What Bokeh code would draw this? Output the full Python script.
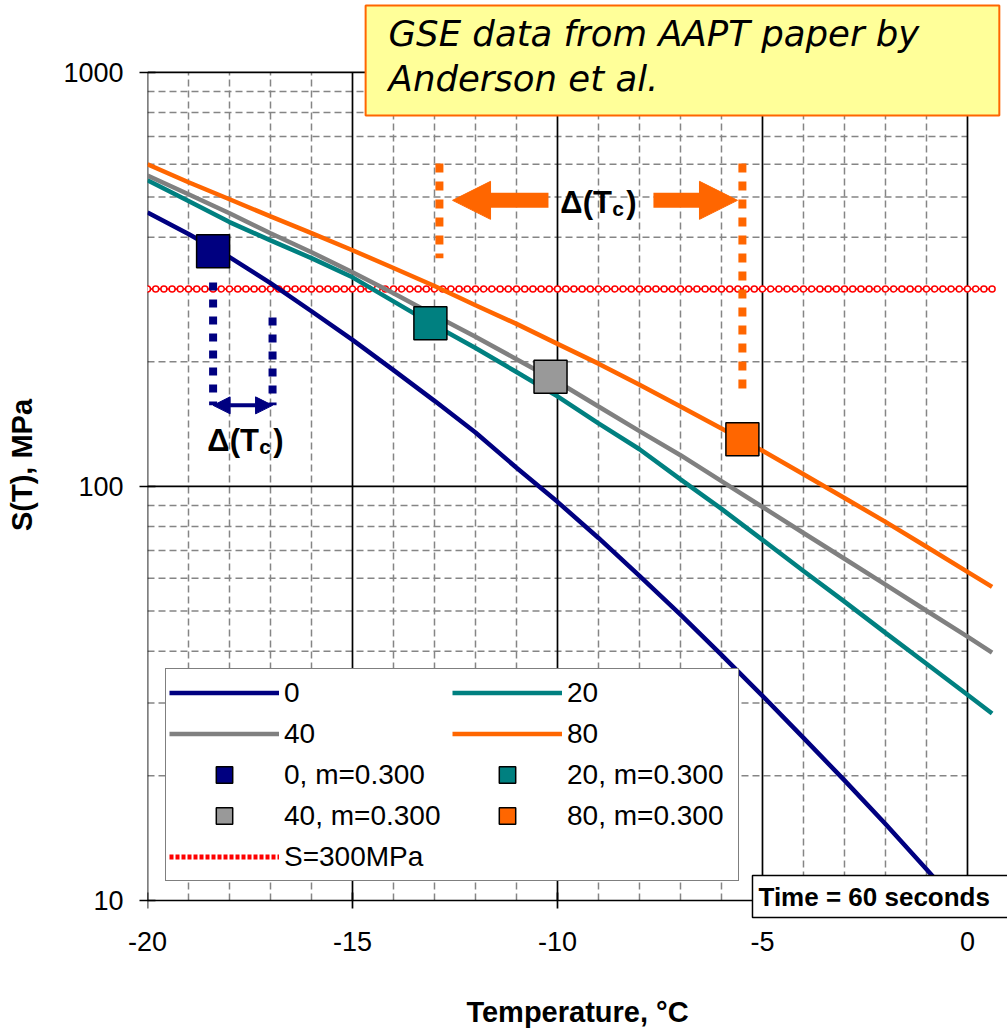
import numpy as np
from bokeh.plotting import figure
from bokeh.models import (Range1d, FixedTicker, Legend, LegendItem, Label, Arrow,
                          NormalHead, BasicTickFormatter)
from bokeh.embed import file_html
from bokeh.resources import INLINE

# ---- data -------------------------------------------------------------
temps = [-20, -19, -18, -17, -16, -15, -14, -13, -12, -11, -10,
         -9, -8, -7, -6, -5, -4, -3, -2, -1, 0, 0.6]

# stiffness S(T) [MPa] for the four conditioning times
s_0 = [459, 407, 358, 310, 265, 226, 191, 161, 135, 111, 91.8,
       75.1, 60.8, 49.0, 39.2, 31.2, 24.7, 19.5, 15.3, 11.9, 9.2]
s_20 = [549, 489, 435, 393, 356, 320, 280, 245, 216, 189, 165,
        142, 123, 104, 88.3, 74.3, 62.5, 52.7, 44.3, 37.3, 31.4, 28.3]
s_40 = [564, 508, 457, 409, 368, 329, 293, 259, 230, 203, 179,
        156, 136, 119, 103, 89.2, 77.2, 66.9, 57.9, 50.1, 43.4, 39.7]
s_80 = [600, 543, 494, 449, 409, 372, 337, 305, 274, 247, 221,
        198, 176, 156, 138, 122, 107, 93.8, 82.1, 71.5, 62.2, 57.2]

series_labels = ["0", "20", "40", "80"]
series_values = [s_0, s_20, s_40, s_80]
line_colors = ["#000080", "#008080", "#808080", "#FF6600"]
marker_colors = ["#000080", "#008080", "#999999", "#FF6600"]

# temperature where slope m = 0.300 on each curve
m_temps = [-18.4, -13.1, -10.17, -5.49]
m_stress = [370, 248, 184, 130]

S_LIMIT = 300          # MPa criterion
x_ticks = [-20, -15, -10, -5, 0]
y_ticks = [10, 100, 1000]

# delta(Tc) construction points
navy_cross_T = -16.95
orange_cross_T = -12.88
navy_bracket = dict(top_left=311, top_right=256, base=157)
orange_bracket = dict(top=603, bottom_left=356, bottom_right=168)
orange_arrow_S = 491
orange_label_T = -8.95

FONT = "Liberation Sans"
PX_PER_DECADE = 414.5   # vertical scale of the log axis

# frame spans the whole canvas height down to the tick labels so that the
# boxed notes may sit over the axis line
p = figure(width=1007, height=1030, x_range=Range1d(-20, 0.976),
           y_range=Range1d(8.51, 1492), y_axis_type="log",
           output_backend="svg", toolbar_location=None,
           min_border_left=147, min_border_right=0,
           min_border_top=0, min_border_bottom=100)
p.xgrid.visible = False
p.ygrid.visible = False
p.outline_line_color = None
p.background_fill_color = "white"
p.border_fill_color = "white"

# ---- grid -------------------------------------------------------------
x_lo, x_hi = x_ticks[0], x_ticks[-1]
y_lo, y_hi = y_ticks[0], y_ticks[-1]
x_minor = [t for t in range(x_lo + 1, x_hi) if t % 5 != 0]
y_minor = [k * 10 ** d for d in (1, 2) for k in range(2, 10)]
dash_kw = dict(line_color="#858585", line_width=1.5, line_dash="7 4")
p.segment(x0=x_minor, y0=[y_lo] * len(x_minor), x1=x_minor, y1=[y_hi] * len(x_minor), **dash_kw)
p.segment(x0=[x_lo] * len(y_minor), y0=y_minor, x1=[x_hi] * len(y_minor), y1=y_minor, **dash_kw)
p.segment(x0=x_ticks, y0=[y_lo] * len(x_ticks), x1=x_ticks, y1=[y_hi] * len(x_ticks),
          line_color="black", line_width=1.7)
p.segment(x0=[x_lo] * len(y_ticks), y0=y_ticks, x1=[x_hi] * len(y_ticks), y1=y_ticks,
          line_color="black", line_width=1.7)
# x tick marks crossing the bottom axis line (8 px each side)
tick_f = 10 ** (8 / PX_PER_DECADE)
p.segment(x0=x_ticks, y0=[y_lo / tick_f] * len(x_ticks), x1=x_ticks,
          y1=[y_lo * tick_f] * len(x_ticks), line_color="black", line_width=1.7)

# ---- S = 300 MPa criterion -------------------------------------------
p.line(x=[-20.5, 0.6], y=[S_LIMIT, S_LIMIT], line_color="red", line_width=1.5)
chain_x = np.arange(-20.4, 0.61, 0.2)
p.scatter(x=chain_x, y=[S_LIMIT] * len(chain_x), marker="circle", size=6,
          line_color="red", fill_color="white", line_width=1.5)
# swatch used by the legend only (lies outside the visible x range)
r_limit_legend = p.line(x=[-40, -39], y=[S_LIMIT, S_LIMIT], line_color="red",
                        line_width=5, line_dash="4 2")

# ---- curves -----------------------------------------------------------
line_renderers = []
for vals, col in zip(series_values, line_colors):
    line_renderers.append(p.line(temps[:len(vals)], vals, line_color=col, line_width=4.5))

# ---- delta(Tc) constructions -----------------------------------------
navy = "#000080"
orange = "#FF6600"
p.segment(x0=[m_temps[0], navy_cross_T],
          y0=[navy_bracket["top_left"], navy_bracket["top_right"]],
          x1=[m_temps[0], navy_cross_T],
          y1=[navy_bracket["base"], navy_bracket["base"]],
          line_color=navy, line_width=8, line_dash="8 9")
p.add_layout(Arrow(x_start=m_temps[0], y_start=navy_bracket["base"],
                   x_end=navy_cross_T, y_end=navy_bracket["base"],
                   line_color=navy, line_width=4,
                   start=NormalHead(size=17, fill_color=navy, line_color=navy),
                   end=NormalHead(size=17, fill_color=navy, line_color=navy)))

p.segment(x0=[orange_cross_T, m_temps[3]],
          y0=[orange_bracket["top"], orange_bracket["top"]],
          x1=[orange_cross_T, m_temps[3]],
          y1=[orange_bracket["bottom_left"], orange_bracket["bottom_right"]],
          line_color=orange, line_width=8, line_dash="9 9")
for start, tip in ((orange_label_T - 1.27, orange_cross_T + 0.32),
                   (orange_label_T + 1.29, m_temps[3] - 0.12)):
    p.add_layout(Arrow(x_start=start, y_start=orange_arrow_S,
                       x_end=tip, y_end=orange_arrow_S,
                       line_color=orange, line_width=15,
                       end=NormalHead(size=38, fill_color=orange, line_color=orange)))

# ---- markers ----------------------------------------------------------
marker_renderers = []
for t, s, col in zip(m_temps, m_stress, marker_colors):
    marker_renderers.append(p.scatter(x=[t], y=[s], marker="square", size=33,
                                      fill_color=col, line_color="black", line_width=1.5))


def delta_label(x, y):
    kw = dict(text_font=FONT, text_font_style="bold", text_color="black",
              text_baseline="alphabetic", text_align="left")
    p.add_layout(Label(x=x, y=y, text="Δ(T", text_font_size="31px", **kw))
    p.add_layout(Label(x=x, y=y, x_offset=52, y_offset=-6, text="c",
                       text_font_size="21px", **kw))
    p.add_layout(Label(x=x, y=y, x_offset=66, text=")", text_font_size="31px", **kw))


delta_label(-18.54, 129.4)
delta_label(-9.93, 486)

# ---- axes -------------------------------------------------------------
for ax in (p.xaxis[0], p.yaxis[0]):
    ax.axis_line_color = None
    ax.major_tick_in = 8
    ax.major_tick_out = 8
    ax.major_tick_line_color = "black"
    ax.major_tick_line_width = 1.7
    ax.minor_tick_line_color = None
    ax.major_label_text_font = FONT
    ax.major_label_text_font_size = "27px"
    ax.major_label_text_color = "black"
    ax.axis_label_text_font = FONT
    ax.axis_label_text_font_size = "29px"
    ax.axis_label_text_font_style = "bold"
    ax.axis_label_text_color = "black"

p.xaxis.major_tick_in = 0
p.xaxis.major_tick_out = 0
p.xaxis.major_tick_line_color = None
p.xaxis.ticker = FixedTicker(ticks=x_ticks)
p.yaxis.ticker = FixedTicker(ticks=y_ticks)
p.xaxis.bounds = (x_lo, x_hi)
p.yaxis.bounds = (y_lo, y_hi)
p.xaxis.major_label_overrides = {t: str(t) for t in x_ticks}
p.yaxis.formatter = BasicTickFormatter(use_scientific=False)
p.xaxis.axis_label = "Temperature, °C"
p.yaxis.axis_label = "S(T), MPa"
p.xaxis.major_label_standoff = 2
p.yaxis.major_label_standoff = 16
p.xaxis.axis_label_standoff = 42
p.yaxis.axis_label_standoff = 22

# ---- legend -----------------------------------------------------------
items = [LegendItem(label=lab, renderers=[r]) for lab, r in zip(series_labels, line_renderers)]
items += [LegendItem(label=f"{lab}, m=0.300", renderers=[r])
          for lab, r in zip(series_labels, marker_renderers)]
items.append(LegendItem(label=f"S={S_LIMIT}MPa", renderers=[r_limit_legend]))
legend = Legend(items=items, location=(18, 48), orientation="horizontal", ncols=2,
                glyph_width=110, glyph_height=41, spacing=0, padding=3, margin=0,
                label_standoff=5, label_width=168,
                label_text_font=FONT, label_text_font_size="28px", label_text_color="black",
                border_line_color="black", border_line_width=1.5,
                background_fill_color="white", background_fill_alpha=1.0)
p.add_layout(legend, "center")

# ---- text boxes -------------------------------------------------------
p.add_layout(Label(x=-5.244, y=11.49, text="Time = 60 seconds", text_align="left",
                   text_baseline="top", text_font=FONT, text_font_size="26px",
                   text_font_style="bold", text_color="black",
                   padding=dict(left=6, right=19, top=6, bottom=6),
                   border_line_color="black", border_line_width=1.5,
                   background_fill_color="white"))
p.add_layout(Label(x=-14.68, y=1451, text="GSE data from AAPT paper by\nAnderson et al.",
                   text_align="left", text_baseline="top", text_font="DejaVu Sans",
                   text_font_size="35.5px", text_font_style="italic", text_color="black",
                   text_line_height=1.12,
                   padding=dict(left=23, right=80, top=7, bottom=16),
                   border_line_color="#FF6600", border_line_width=2,
                   background_fill_color="#FFFF99"))

open("out.html", "w").write(file_html(p, INLINE))
